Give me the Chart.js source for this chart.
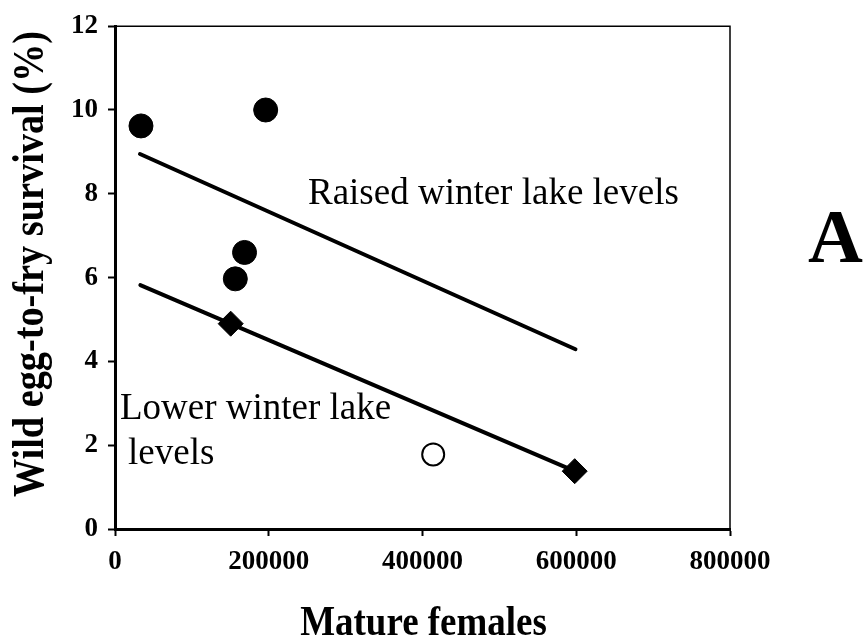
<!DOCTYPE html>
<html>
<head>
<meta charset="utf-8">
<script src="https://cdn.jsdelivr.net/npm/chart.js@4"></script>
<style>
    html, body { margin: 0; padding: 0; background: #ffffff; }
    #wrap { width: 866px; height: 639px; }
</style>
</head>
<body>
<div id="wrap"><canvas id="eggChart" width="866" height="639"></canvas></div>
<script>
// Values
const raisedFemales = [33800, 196000, 168500, 156500];
const raisedSurvival = [9.62, 10.0, 6.6, 5.97];
const lowerFemales = [150500, 598000];
const lowerSurvival = [4.9, 1.38];
const openFemales = [413900];
const openSurvival = [1.78];
const raisedFitFemales = [32500, 599000];
const raisedFitSurvival = [8.95, 4.29];
const lowerFitFemales = [33000, 598000];
const lowerFitSurvival = [5.82, 1.38];
const xTicks = [0, 200000, 400000, 600000, 800000];
const yTicks = [0, 2, 4, 6, 8, 10, 12];

const serif = "'Liberation Serif', 'Times New Roman', serif";

function toPoints(xs, ys) {
    return xs.map((x, i) => ({ x: x, y: ys[i] }));
}

// Thin top/right frame, narrow axis titles and the text labels
const frameAndText = {
    id: 'frameAndText',
    afterDraw(chart) {
        const ctx = chart.ctx;
        const area = chart.chartArea;
        const xs = chart.scales.x;
        const ys = chart.scales.y;
        ctx.save();
        ctx.strokeStyle = '#000';
        ctx.lineWidth = 1.5;
        ctx.beginPath();
        ctx.moveTo(area.left, area.top);
        ctx.lineTo(area.right, area.top);
        ctx.lineTo(area.right, area.bottom);
        ctx.stroke();

        ctx.fillStyle = '#000';
        ctx.textAlign = 'left';
        ctx.textBaseline = 'alphabetic';
        ctx.font = '37px ' + serif;
        ctx.fillText('Raised winter lake levels', xs.getPixelForValue(251000), ys.getPixelForValue(7.75));
        ctx.fillText('Lower winter lake', xs.getPixelForValue(6500), ys.getPixelForValue(2.63));
        ctx.fillText('levels', xs.getPixelForValue(17000), ys.getPixelForValue(1.56));

        ctx.font = 'bold 76px ' + serif;
        ctx.fillText('A', 808, 262);

        // axis titles, set in a narrow bold face like the original
        ctx.save();
        ctx.font = 'bold 42px ' + serif;
        ctx.textAlign = 'center';
        ctx.translate((area.left + area.right) / 2 + 1, 635);
        ctx.scale(0.88, 1);
        ctx.fillText('Mature females', 0, 0);
        ctx.restore();

        ctx.save();
        ctx.font = 'bold 44px ' + serif;
        ctx.textAlign = 'left';
        ctx.translate(43, 497);
        ctx.rotate(-Math.PI / 2);
        ctx.scale(0.87, 1);
        ctx.fillText('Wild egg-to-fry survival (%)', 0, 0);
        ctx.restore();

        ctx.restore();
    }
};

new Chart(document.getElementById('eggChart'), {
    type: 'scatter',
    data: {
        datasets: [
            {
                label: 'Raised winter lake levels',
                data: toPoints(raisedFemales, raisedSurvival),
                pointStyle: 'circle',
                pointRadius: 12,
                backgroundColor: '#000',
                borderColor: '#000',
                borderWidth: 1,
                order: 1
            },
            {
                label: 'Lower winter lake levels',
                data: toPoints(lowerFemales, lowerSurvival),
                pointStyle: 'rectRot',
                pointRadius: 12.5,
                backgroundColor: '#000',
                borderColor: '#000',
                borderWidth: 1,
                order: 1
            },
            {
                label: 'Excluded',
                data: toPoints(openFemales, openSurvival),
                pointStyle: 'circle',
                pointRadius: 11,
                backgroundColor: '#fff',
                borderColor: '#000',
                borderWidth: 2,
                order: 1
            },
            {
                label: 'Raised fit',
                data: toPoints(raisedFitFemales, raisedFitSurvival),
                showLine: true,
                pointRadius: 0,
                borderColor: '#000',
                borderWidth: 4,
                borderCapStyle: 'round',
                order: 2
            },
            {
                label: 'Lower fit',
                data: toPoints(lowerFitFemales, lowerFitSurvival),
                showLine: true,
                pointRadius: 0,
                borderColor: '#000',
                borderWidth: 4,
                borderCapStyle: 'round',
                order: 2
            }
        ]
    },
    options: {
        responsive: false,
        animation: false,
        events: [],
        layout: {
            padding: { top: 22, right: 136, left: 0, bottom: 0 }
        },
        plugins: {
            legend: { display: false },
            tooltip: { enabled: false }
        },
        scales: {
            x: {
                type: 'linear',
                min: 0,
                max: 800000,
                afterFit: function(scale) { scale.height = 110; },
                afterBuildTicks: function(scale) {
                    scale.ticks = xTicks.map(v => ({ value: v }));
                },
                border: { display: true, color: '#000', width: 3 },
                grid: {
                    drawOnChartArea: false,
                    drawTicks: true,
                    tickLength: 7,
                    tickWidth: 2,
                    tickColor: '#000'
                },
                ticks: {
                    color: '#000',
                    padding: 10,
                    maxRotation: 0,
                    font: { family: serif, size: 27, weight: 'bold' },
                    callback: v => String(v)
                },
                title: { display: false }
            },
            y: {
                type: 'linear',
                min: 0,
                max: 12,
                afterFit: function(scale) { scale.width = 115; },
                afterBuildTicks: function(scale) {
                    scale.ticks = yTicks.map(v => ({ value: v }));
                },
                border: { display: true, color: '#000', width: 3 },
                grid: {
                    drawOnChartArea: false,
                    drawTicks: true,
                    tickLength: 7,
                    tickWidth: 2,
                    tickColor: '#000'
                },
                ticks: {
                    color: '#000',
                    padding: 10,
                    font: { family: serif, size: 27, weight: 'bold' }
                },
                title: { display: false }
            }
        }
    },
    plugins: [frameAndText]
});
</script>
</body>
</html>
